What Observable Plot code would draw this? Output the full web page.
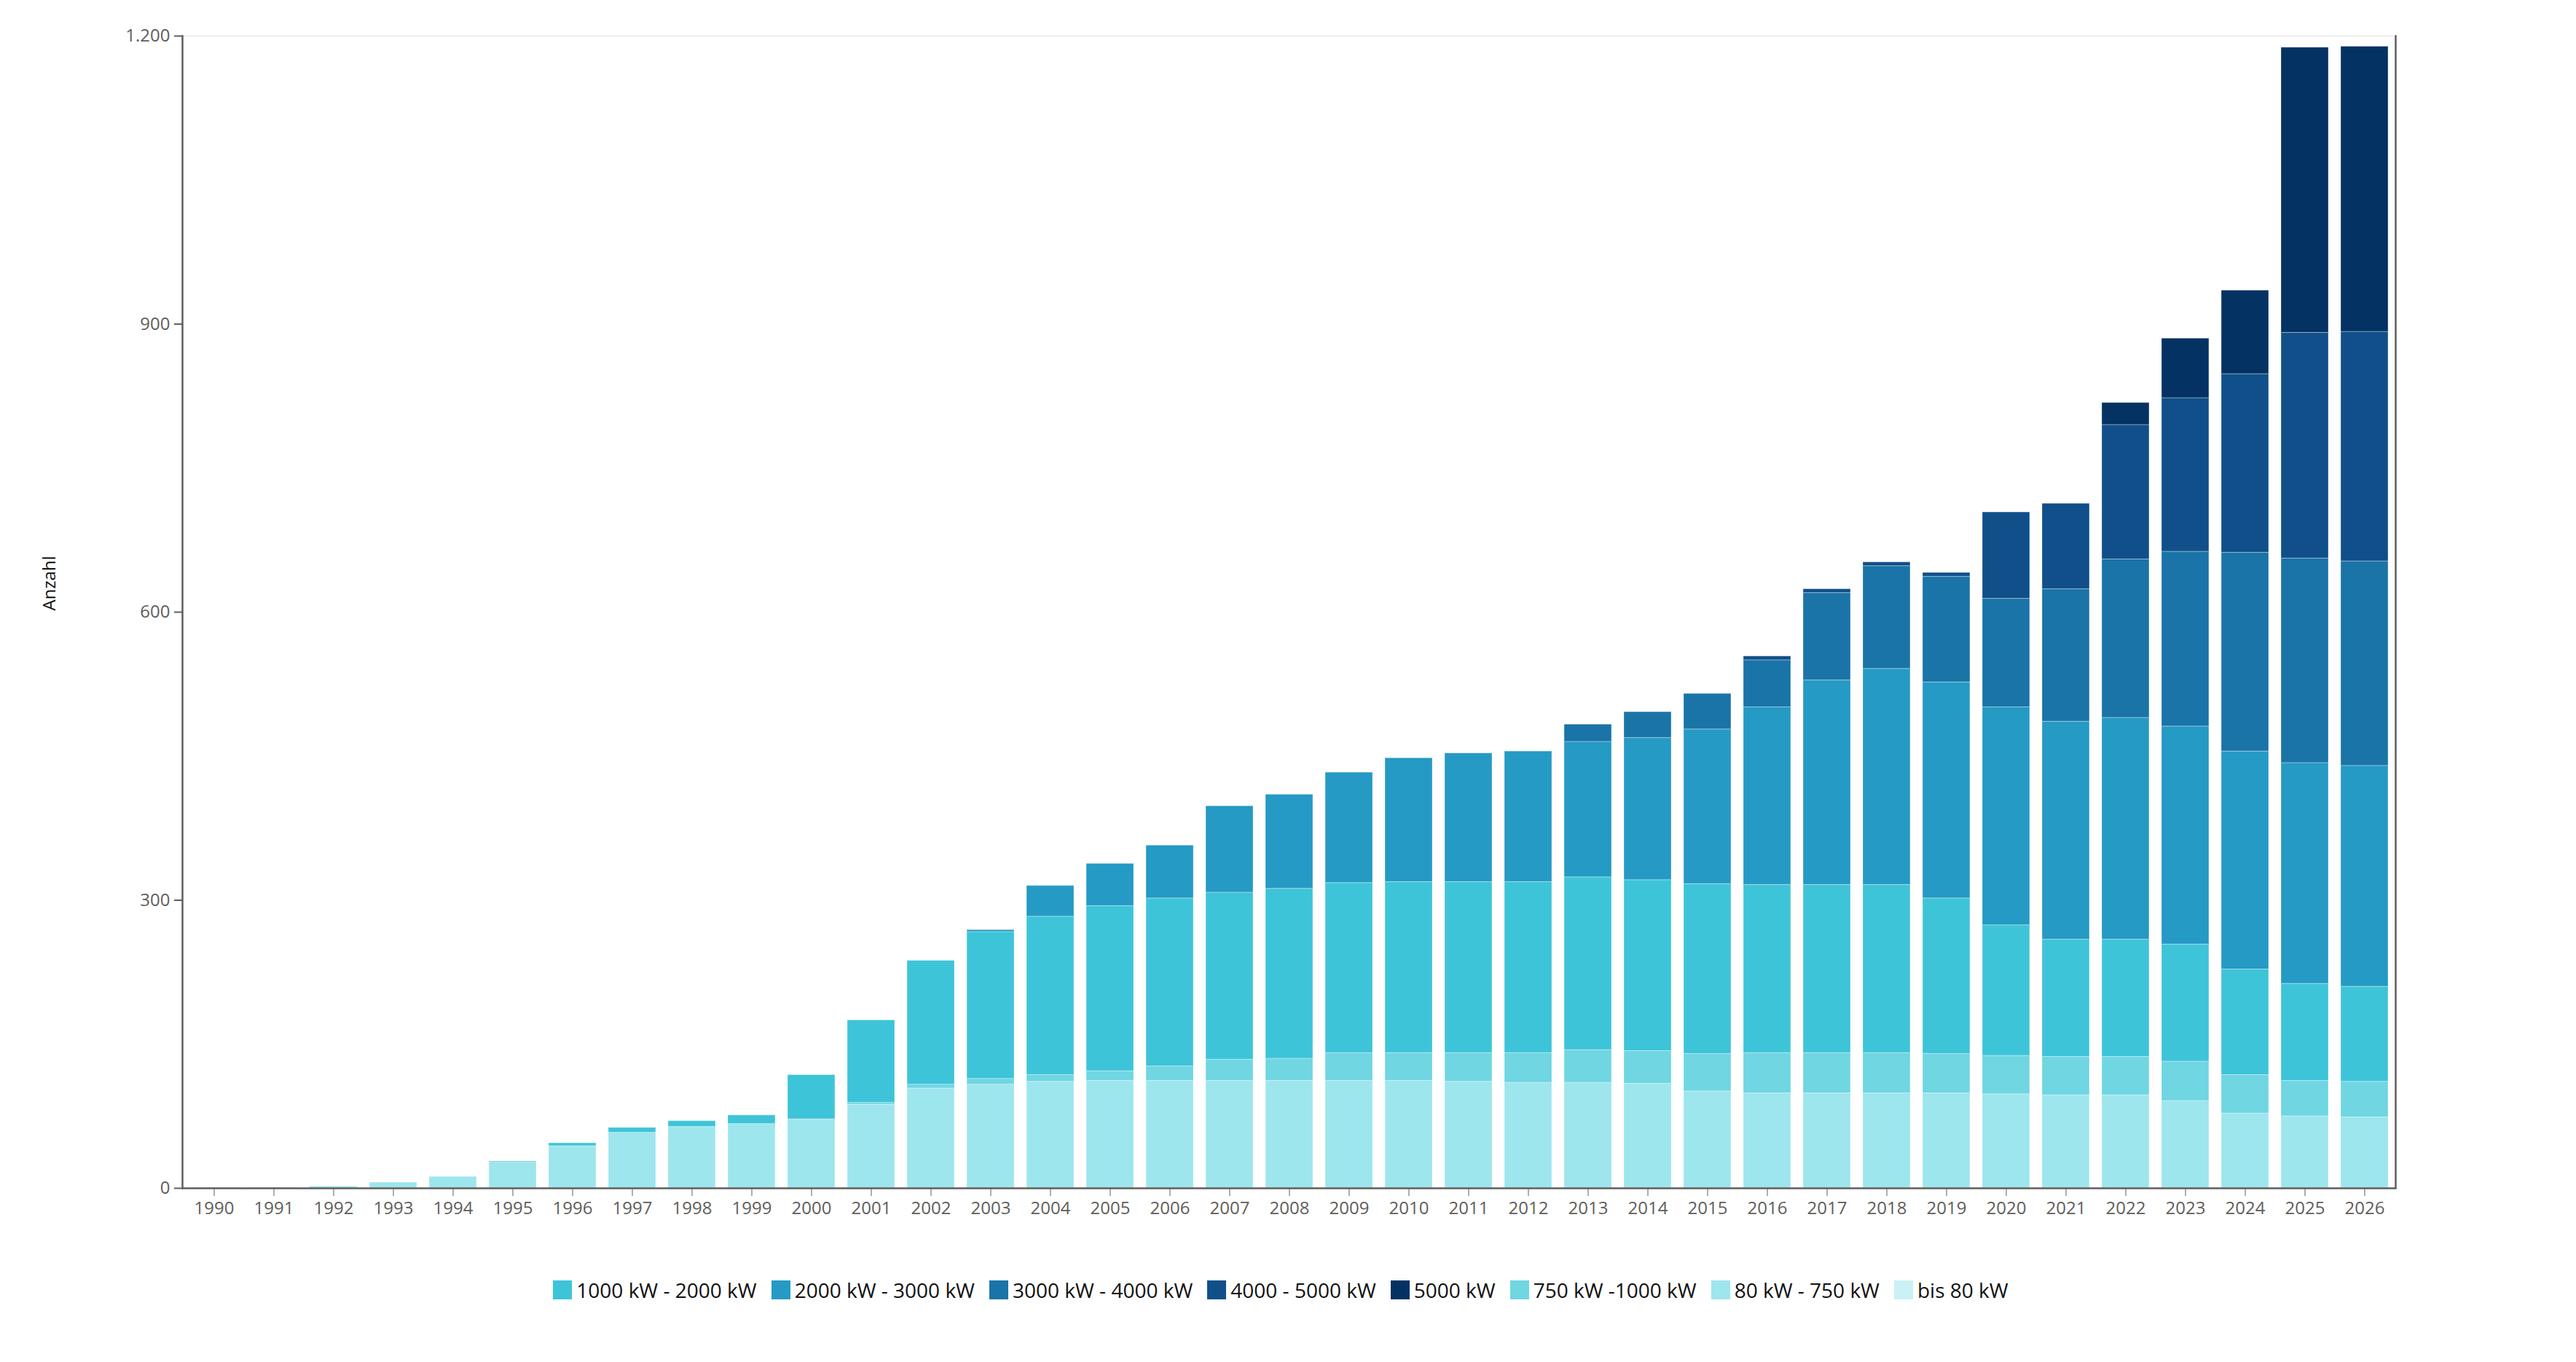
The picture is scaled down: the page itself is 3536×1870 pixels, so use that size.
<!DOCTYPE html>
<html>
<head>
<meta charset="utf-8">
<script src="https://cdn.jsdelivr.net/npm/d3@7"></script>
<script src="https://cdn.jsdelivr.net/npm/@observablehq/plot@0.6"></script>
<style>
  html, body { margin: 0; padding: 0; background: #fff; }
  body { width: 3536px; height: 1870px; font-family: "Open Sans", "Noto Sans", sans-serif; }
  #legend { display: flex; justify-content: center; align-items: center; margin-top: 52px; padding-right: 0px; }
  .item { display: flex; align-items: center; margin-right: 20px; font-size: 28px; color: #111; white-space: pre; }
  .sw { width: 26px; height: 26px; margin-right: 6px; }
</style>
</head>
<body>
<div id="chart"></div>
<div id="legend"></div>
<script>
const years = d3.range(1990, 2027).map(String);

// series values per year 1990..2026
const bis80     = [1,1,0,0,0,0,0,0,0,0, 0,0,0,0,0,0,0,0,0,0, 0,0,0,0,0,0,0,0,0,0, 0,0,0,0,0,0,0];
const s80_750   = [0,0,2,6,12,27,44,58,64,67, 72,87,104,108,111,112,112,112,112,112, 112,111,110,110,109,101,99,99,99,99, 98,97,97,91,78,75,74];
const s750_1000 = [0,0,0,0,0,0,0,0,0,0, 0,2,4,6,7,10,15,22,23,29, 29,30,31,34,34,39,42,42,42,41, 40,40,40,41,40,37,37];
const s1000_2000= [0,0,0,0,0,1,3,5,6,9, 46,86,129,153,165,172,175,174,177,177, 178,178,178,180,178,177,175,175,175,162, 136,122,122,122,110,101,99];
const s2000_3000= [0,0,0,0,0,0,0,0,0,0, 0,0,0,2,32,44,55,90,98,115, 129,134,136,141,148,161,185,213,225,225, 227,227,231,227,227,230,230];
const s3000_4000= [0,0,0,0,0,0,0,0,0,0, 0,0,0,0,0,0,0,0,0,0, 0,0,0,18,27,37,49,91,107,110, 113,138,165,182,207,213,213];
const s4000_5000= [0,0,0,0,0,0,0,0,0,0, 0,0,0,0,0,0,0,0,0,0, 0,0,0,0,0,0,4,4,4,4, 90,89,140,160,186,235,239];
const s5000     = [0,0,0,0,0,0,0,0,0,0, 0,0,0,0,0,0,0,0,0,0, 0,0,0,0,0,0,0,0,0,0, 0,0,23,62,87,297,297];

// stacking order bottom -> top
const stackNames  = ["bis 80 kW", "80 kW - 750 kW", "750 kW -1000 kW", "1000 kW - 2000 kW", "2000 kW - 3000 kW", "3000 kW - 4000 kW", "4000 - 5000 kW", "5000 kW"];
const stackValues = [bis80, s80_750, s750_1000, s1000_2000, s2000_3000, s3000_4000, s4000_5000, s5000];
const stackColors = ["#c9f1f6", "#9de6ed", "#6fd6e2", "#3ec4d8", "#259ac4", "#1a74a7", "#104f89", "#033263"];

// legend order
const legendNames = ["1000 kW - 2000 kW", "2000 kW - 3000 kW", "3000 kW - 4000 kW", "4000 - 5000 kW", "5000 kW", "750 kW -1000 kW", "80 kW - 750 kW", "bis 80 kW"];

const yTicks = [0, 300, 600, 900, 1200];
const yLabel = "Anzahl";

const data = [];
stackNames.forEach((name, i) => {
  years.forEach((yr, j) => data.push({year: yr, series: name, value: stackValues[i][j]}));
});

const de = d3.formatLocale({decimal: ",", thousands: ".", grouping: [3], currency: ["", " €"]});
const fmt = de.format(",");

const axisColor = "#605e5c";

const chart = Plot.plot({
  width: 3536,
  height: 1700,
  marginTop: 49,
  marginBottom: 69,
  marginLeft: 250,
  marginRight: 248,
  style: {fontFamily: "'Open Sans', 'Noto Sans', sans-serif", background: "#fff"},
  x: {domain: years, paddingInner: 0.21, paddingOuter: 0.11},
  y: {domain: [0, 1200]},
  color: {domain: stackNames, range: stackColors},
  marks: [
    Plot.ruleY([1200], {stroke: "#ededed", strokeWidth: 2}),
    Plot.barY(data, {x: "year", y: "value", fill: "series", order: stackNames, stroke: "#ffffff", strokeOpacity: 0.35, strokeWidth: 1}),
    Plot.ruleY([0], {stroke: axisColor, strokeWidth: 2.5}),
    Plot.frame({anchor: "left", stroke: axisColor, strokeWidth: 2.5}),
    Plot.frame({anchor: "right", stroke: axisColor, strokeWidth: 2.5}),
    Plot.axisY({ticks: yTicks, tickFormat: fmt, tickSize: 11, tickPadding: 6, fontSize: 24, color: axisColor, stroke: axisColor, strokeWidth: 2, label: null}),
    Plot.axisX({tickSize: 11, tickPadding: 7, fontSize: 24, color: axisColor, stroke: axisColor, label: null}),
    Plot.text([yLabel], {frameAnchor: "left", dx: -182, dy: -2, rotate: -90, fontSize: 24, fill: "#111"})
  ]
});
document.getElementById("chart").appendChild(chart);

const legend = document.getElementById("legend");
legendNames.forEach(name => {
  const item = document.createElement("div");
  item.className = "item";
  const sw = document.createElement("div");
  sw.className = "sw";
  sw.style.background = stackColors[stackNames.indexOf(name)];
  const label = document.createElement("span");
  label.textContent = name;
  item.appendChild(sw);
  item.appendChild(label);
  legend.appendChild(item);
});
</script>
</body>
</html>
